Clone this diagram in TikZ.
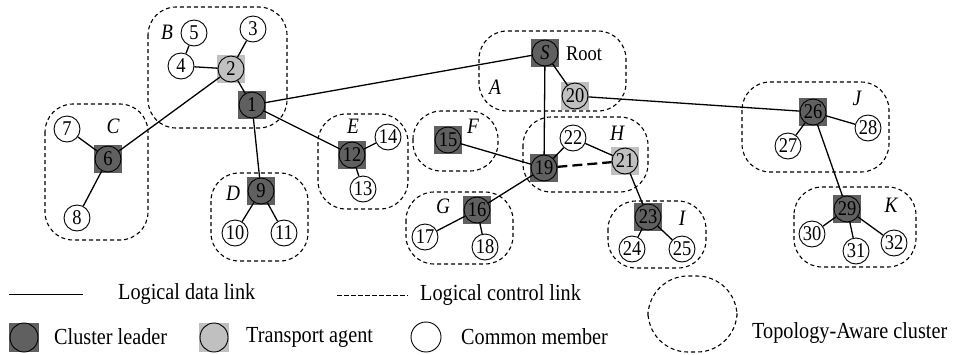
\documentclass[tikz,border=0pt]{standalone}
\usepackage{fontspec}
\setmainfont[FakeStretch=0.88]{Liberation Serif}
\usetikzlibrary{shapes.geometric}
\definecolor{leadgray}{RGB}{96,96,96}
\definecolor{agentgray}{RGB}{192,192,192}
\tikzset{
  nodebase/.style={circle,draw=black,line width=0.9pt,minimum size=26pt,inner sep=0pt,font=\fontsize{21}{21}\selectfont},
  nodecm/.style={nodebase,fill=white},
  nodeld/.style={nodebase,fill=leadgray},
  nodeag/.style={nodebase,fill=agentgray},
  sqdark/.style={rectangle,minimum size=28pt,inner sep=0pt,fill=leadgray},
  sqlight/.style={rectangle,minimum size=28pt,inner sep=0pt,fill=agentgray},
  clustbox/.style={draw=black,line width=1.1pt,dash pattern=on 4pt off 3pt,rounded corners=28pt},
  linkstyle/.style={line width=1.3pt},
  ctlstyle/.style={line width=2.3pt,dash pattern=on 10pt off 5pt},
  clustlab/.style={font=\fontsize{22}{22}\selectfont\itshape},
  legtext/.style={font=\fontsize{23}{23}\selectfont,anchor=west,inner sep=0pt},
}
\newcommand{\leadnode}[3]{\node[sqdark] (#1q) at (#2) {}; \node[nodeld] (#1) at (#2) {#3};}
\newcommand{\agentnode}[3]{\node[sqlight] (#1q) at (#2) {}; \node[nodeag] (#1) at (#2) {#3};}
\begin{document}
\begin{tikzpicture}[x=1pt,y=-1pt]
\useasboundingbox (0,0) rectangle (956,354);
% clusters
\draw[clustbox] (479,31) rectangle (626,111);
\draw[clustbox] (148,7) rectangle (287,128);
\draw[clustbox] (45,104) rectangle (148,240);
\draw[clustbox] (211,173) rectangle (308,261);
\draw[clustbox] (318,114) rectangle (408,209);
\draw[clustbox] (413,111) rectangle (498,171);
\draw[clustbox] (406,192) rectangle (513,264);
\draw[clustbox] (523,117) rectangle (648,192);
\draw[clustbox] (608,201) rectangle (706,268);
\draw[clustbox] (742,82) rectangle (889,172);
\draw[clustbox] (794,187) rectangle (916,267);
% cluster labels
\node[clustlab] (lA) at (495,87) {A};
\node[clustlab] (lB) at (167,32) {B};
\node[clustlab] (lC) at (113,126) {C};
\node[clustlab] (lD) at (233,193) {D};
\node[clustlab] (lE) at (353,126) {E};
\node[clustlab] (lF) at (473,126) {F};
\node[clustlab] (lG) at (443,206) {G};
\node[clustlab] (lH) at (617,133) {H};
\node[clustlab] (lI) at (682,218) {I};
\node[clustlab] (lJ) at (857,98) {J};
\node[clustlab] (lK) at (891,205) {K};
\node[font=\fontsize{21}{21}\selectfont] (root) at (584,54) {Root};
% nodes
\leadnode{S}{545,53}{\itshape S}
\agentnode{n20}{575,96}{20}
\leadnode{n1}{252,105}{1}
\agentnode{n2}{231,69}{2}
\node[nodecm] (n3) at (253,29) {3};
\node[nodecm] (n4) at (181,66) {4};
\node[nodecm] (n5) at (194,33) {5};
\leadnode{n6}{108,159}{6}
\node[nodecm] (n7) at (67,129) {7};
\node[nodecm] (n8) at (77,218) {8};
\leadnode{n9}{261,191}{9}
\node[nodecm] (n10) at (235,233) {10};
\node[nodecm] (n11) at (284,233) {11};
\leadnode{n12}{352,155}{12}
\node[nodecm] (n13) at (363,189) {13};
\node[nodecm] (n14) at (388,137) {14};
\leadnode{n15}{448,140}{15}
\leadnode{n16}{477,210}{16}
\node[nodecm] (n17) at (425,237) {17};
\node[nodecm] (n18) at (485,247) {18};
\leadnode{n19}{544,168}{19}
\agentnode{n21}{625,161}{21}
\node[nodecm] (n22) at (573,138) {22};
\leadnode{n23}{648,217}{23}
\node[nodecm] (n24) at (632,249) {24};
\node[nodecm] (n25) at (682,249) {25};
\leadnode{n26}{813,112}{26}
\node[nodecm] (n27) at (788,146) {27};
\node[nodecm] (n28) at (868,128) {28};
\leadnode{n29}{847,209}{29}
\node[nodecm] (n30) at (812,234) {30};
\node[nodecm] (n31) at (856,251) {31};
\node[nodecm] (n32) at (894,243) {32};
% links
\draw[linkstyle] (n4) -- (n5);
\draw[linkstyle] (n4) -- (n2);
\draw[linkstyle] (n2) -- (n3);
\draw[linkstyle] (n2) -- (n1);
\draw[linkstyle] (n2) -- (n6);
\draw[linkstyle] (n1) -- (S);
\draw[linkstyle] (n1) -- (n9);
\draw[linkstyle] (n1) -- (n12);
\draw[linkstyle] (n6) -- (n7);
\draw[linkstyle] (n6) -- (n8);
\draw[linkstyle] (n9) -- (n10);
\draw[linkstyle] (n9) -- (n11);
\draw[linkstyle] (n12) -- (n14);
\draw[linkstyle] (n12) -- (n13);
\draw[linkstyle] (S) -- (n20);
\draw[linkstyle] (S) -- (n19);
\draw[linkstyle] (n20) -- (n26);
\draw[linkstyle] (n15) -- (n19);
\draw[linkstyle] (n19) -- (n22);
\draw[linkstyle] (n19) -- (n16);
\draw[ctlstyle] (n19) -- (n21);
\draw[linkstyle] (n22) -- (n21);
\draw[linkstyle] (n21) -- (n23);
\draw[linkstyle] (n16) -- (n17);
\draw[linkstyle] (n16) -- (n18);
\draw[linkstyle] (n23) -- (n24);
\draw[linkstyle] (n23) -- (n25);
\draw[linkstyle] (n26) -- (n28);
\draw[linkstyle] (n26) -- (n27);
\draw[linkstyle] (n26) -- (n29);
\draw[linkstyle] (n29) -- (n30);
\draw[linkstyle] (n29) -- (n31);
\draw[linkstyle] (n29) -- (n32);
% legend
\coordinate (da) at (9,294);
\coordinate (db) at (83,294);
\draw[line width=0.9pt] (da) -- (db);
\node[legtext] (tdata) at (118,294) {Logical data link};
\coordinate (ca) at (337,295);
\coordinate (cb) at (408,295);
\draw[line width=0.9pt,dash pattern=on 4.5pt off 2.5pt] (ca) -- (cb);
\node[legtext] (tctl) at (420,295) {Logical control link};
\node[rectangle,minimum width=30pt,minimum height=29pt,inner sep=0pt,fill=leadgray] (lgl) at (24,337.5) {};
\node[ellipse,draw=black,line width=0.9pt,minimum width=28pt,minimum height=29pt,inner sep=0pt] (lgle) at (24,337.5) {};
\node[legtext] (tlead) at (54,337) {Cluster leader};
\node[rectangle,minimum width=30pt,minimum height=29pt,inner sep=0pt,fill=agentgray] (lga) at (214,337.5) {};
\node[ellipse,draw=black,line width=0.9pt,minimum width=28pt,minimum height=29pt,inner sep=0pt] (lgae) at (214,337.5) {};
\node[legtext] (tagent) at (246,337) {Transport agent};
\node[ellipse,draw=black,line width=0.9pt,minimum width=30pt,minimum height=30pt,inner sep=0pt] (lgc) at (426,337) {};
\node[legtext] (tcomm) at (461,337) {Common member};
\draw[clustbox,rounded corners=40pt] (648,276) rectangle (737,352);
\node[legtext] (ttopo) at (752,333) {Topology-Aware cluster};
\end{tikzpicture}
\end{document}
